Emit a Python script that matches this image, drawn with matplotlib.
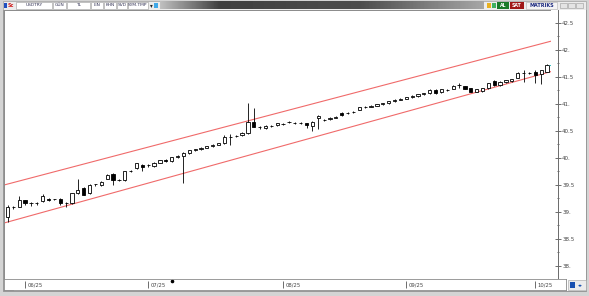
import matplotlib
matplotlib.use("Agg")
import matplotlib.pyplot as plt
from matplotlib.patches import Rectangle
import numpy as np
import pandas as pd

# USDTRY daily candles, 28 May - 03 Oct 2025
dates = pd.bdate_range("2025-05-28", "2025-10-03")

opens = [38.93, 39.10, 39.11, 39.23, 39.18, 39.17, 39.21, 39.26, 39.25, 39.26,
         39.17, 39.17, 39.36, 39.45, 39.36, 39.52, 39.51, 39.63, 39.72, 39.60,
         39.60, 39.77, 39.82, 39.88, 39.87, 39.86, 39.92, 39.97, 39.95, 40.02,
         40.05, 40.10, 40.15, 40.17, 40.20, 40.22, 40.25, 40.28, 40.40, 40.42,
         40.43, 40.46, 40.68, 40.57, 40.56, 40.60, 40.61, 40.63, 40.67, 40.66,
         40.65, 40.65, 40.60, 40.75, 40.71, 40.72, 40.75, 40.84, 40.84, 40.86,
         40.90, 40.94, 40.95, 40.97, 41.00, 41.02, 41.05, 41.08, 41.10, 41.13,
         41.15, 41.18, 41.20, 41.26, 41.22, 41.26, 41.28, 41.35, 41.33, 41.29,
         41.23, 41.24, 41.29, 41.43, 41.35, 41.40, 41.42, 41.49, 41.58, 41.58,
         41.60, 41.55, 41.60]
highs = [39.14, 39.13, 39.30, 39.24, 39.20, 39.19, 39.35, 39.27, 39.26, 39.28,
         39.19, 39.37, 39.63, 39.47, 39.52, 39.53, 39.58, 39.71, 39.73, 39.62,
         39.77, 39.79, 39.92, 39.89, 39.89, 39.93, 39.98, 39.99, 40.03, 40.06,
         40.11, 40.16, 40.18, 40.21, 40.23, 40.26, 40.29, 40.43, 40.45, 40.44,
         40.48, 41.02, 40.92, 40.59, 40.61, 40.62, 40.66, 40.65, 40.69, 40.68,
         40.67, 40.66, 40.69, 40.80, 40.73, 40.76, 40.78, 40.86, 40.86, 40.88,
         40.95, 40.96, 40.98, 41.01, 41.03, 41.06, 41.09, 41.11, 41.14, 41.16,
         41.19, 41.21, 41.27, 41.28, 41.28, 41.28, 41.35, 41.39, 41.34, 41.30,
         41.28, 41.30, 41.39, 41.44, 41.42, 41.45, 41.47, 41.59, 41.63, 41.60,
         41.62, 41.63, 41.73]
lows = [38.83, 39.07, 39.10, 39.15, 39.13, 39.14, 39.20, 39.22, 39.23, 39.15,
        39.11, 39.16, 39.35, 39.32, 39.35, 39.50, 39.50, 39.62, 39.51, 39.58,
        39.59, 39.75, 39.81, 39.76, 39.85, 39.85, 39.91, 39.93, 39.94, 40.01,
        39.55, 40.09, 40.14, 40.16, 40.19, 40.21, 40.24, 40.27, 40.25, 40.40,
        40.42, 40.45, 40.57, 40.55, 40.55, 40.58, 40.60, 40.61, 40.65, 40.64,
        40.63, 40.56, 40.51, 40.55, 40.69, 40.71, 40.74, 40.79, 40.82, 40.84,
        40.89, 40.92, 40.94, 40.96, 40.99, 41.01, 41.04, 41.07, 41.09, 41.12,
        41.14, 41.17, 41.19, 41.18, 41.21, 41.24, 41.27, 41.30, 41.27, 41.22,
        41.22, 41.23, 41.28, 41.34, 41.34, 41.39, 41.41, 41.48, 41.41, 41.56,
        41.38, 41.37, 41.59]
closes = [39.10, 39.11, 39.23, 39.18, 39.17, 39.17, 39.30, 39.23, 39.25, 39.18,
          39.17, 39.36, 39.42, 39.33, 39.51, 39.52, 39.57, 39.69, 39.60, 39.60,
          39.76, 39.77, 39.91, 39.84, 39.87, 39.92, 39.97, 39.95, 40.02, 40.05,
          40.10, 40.15, 40.17, 40.20, 40.22, 40.25, 40.28, 40.40, 40.40, 40.42,
          40.47, 40.68, 40.58, 40.57, 40.60, 40.60, 40.65, 40.63, 40.67, 40.66,
          40.65, 40.61, 40.68, 40.78, 40.71, 40.75, 40.77, 40.80, 40.84, 40.86,
          40.94, 40.94, 40.97, 41.00, 41.02, 41.05, 41.08, 41.10, 41.13, 41.15,
          41.18, 41.20, 41.26, 41.20, 41.27, 41.26, 41.33, 41.35, 41.28, 41.23,
          41.27, 41.29, 41.38, 41.35, 41.41, 41.44, 41.46, 41.58, 41.58, 41.58,
          41.54, 41.62, 41.72]

# trend channel drawn on the chart (ends at left / right edge of plot)
chan_x = [-0.6, 92.7]
chan_upper = [39.51, 42.16]
chan_lower = [38.81, 41.60]

price_ticks = [38.0, 38.5, 39.0, 39.5, 40.0, 40.5, 41.0, 41.5, 42.0, 42.5]
month_labels = ["06/25", "07/25", "08/25", "09/25", "10/25"]

W, H = 589, 296
fig = plt.figure(figsize=(W / 100, H / 100), dpi=100)
fig.patch.set_facecolor("#d4d4d4")


def box(x0, y0, x1, y1):
    return [x0 / W, 1 - y1 / H, (x1 - x0) / W, (y1 - y0) / H]


def px2idx(px):
    return (px - 7.5) / 5.864


# ---- window decoration (toolbar, frame) ----
deco = fig.add_axes([0, 0, 1, 1], zorder=0)
deco.set_xlim(0, W)
deco.set_ylim(H, 0)
deco.axis("off")
deco.add_patch(Rectangle((3, 1), 583, 8.5, fc="#ececec", ec="#a0a0a0", lw=0.5))
grad = np.concatenate([np.linspace(0.75, 0.25, 60), np.linspace(0.25, 0.3, 140),
                       np.linspace(0.3, 0.65, 124)])
deco.imshow(grad[None, :], cmap="gray", vmin=0, vmax=1, aspect="auto",
            extent=(160, 484, 9, 1.5), zorder=1)
deco.set_xlim(0, W)
deco.set_ylim(H, 0)
deco.add_patch(Rectangle((3.5, 2.5), 3, 5, fc="#2050c0", ec="none"))
deco.text(7.5, 5.5, "Sc", color="#d02020", fontsize=3.5, va="center", fontweight="bold")
cells = [(16, 52, "USDTRY"), (53, 66, "GÜN"), (67, 90, "TL"), (91, 103, "LIN"),
         (104, 116, "KHN"), (117, 127, "SVD"), (128, 148, "SYM.TMP")]
for x0, x1, lab in cells:
    deco.add_patch(Rectangle((x0, 2), x1 - x0, 6.5, fc="white", ec="#9a9a9a", lw=0.4))
    deco.text((x0 + x1) / 2, 5.4, lab, fontsize=3.2, ha="center", va="center", color="#333355")
deco.text(151, 5.4, "\u25be", fontsize=4, ha="center", va="center", color="#222222")
deco.add_patch(Rectangle((154, 2.5), 4, 5, fc="#40a8e8", ec="none"))
deco.add_patch(Rectangle((487, 2.5), 4, 5, fc="#e8b020", ec="none"))
deco.add_patch(Rectangle((492, 2.5), 4, 5, fc="#40b060", ec="none"))
deco.add_patch(Rectangle((497, 2), 12, 6.5, fc="#1a7a2a", ec="none"))
deco.text(503, 5.4, "AL", fontsize=3.3, ha="center", va="center", color="white", fontweight="bold")
deco.add_patch(Rectangle((510, 2), 14, 6.5, fc="#a01818", ec="none"))
deco.text(517, 5.4, "SAT", fontsize=3.3, ha="center", va="center", color="white", fontweight="bold")
deco.add_patch(Rectangle((526, 2), 31, 6.5, fc="#f4f4f4", ec="#b0b0b0", lw=0.4))
deco.text(541.5, 5.4, "MATRIKS", fontsize=3.5, ha="center", va="center", color="#1c2a80",
          fontweight="bold")
for bx in (560, 568, 576):
    deco.add_patch(Rectangle((bx, 2.5), 7, 5.5, fc="#e4e4e4", ec="#9a9a9a", lw=0.4))
deco.add_patch(Rectangle((3, 10), 583, 280.5, fc="white", ec="#8a8a8a", lw=0.6))
deco.add_patch(Rectangle((4, 280.5), 9, 9, fc="#ececec", ec="#a0a0a0", lw=0.4))
deco.add_patch(Rectangle((568, 280), 18, 10, fc="#ececec", ec="#a0a0a0", lw=0.4))
deco.add_patch(Rectangle((570, 282), 5, 6, fc="#1850b0", ec="none"))
deco.text(580, 285.5, "\u25c2\u25b8", fontsize=3.5, ha="center", va="center", color="#1850b0")

# ---- main candle chart ----
ax = fig.add_axes(box(4, 10, 551, 279), zorder=2)
ax.set_facecolor("white")
x = np.arange(len(dates))
o = np.array(opens)
h = np.array(highs)
lo = np.array(lows)
c = np.array(closes)
up = c >= o
ax.vlines(x, lo, h, color="black", lw=0.6, zorder=2)
bottoms = np.minimum(o, c)
heights = np.abs(c - o)
ax.bar(x[up], heights[up], bottom=bottoms[up], width=0.55, color="white",
       edgecolor="black", linewidth=0.6, zorder=3)
ax.bar(x[~up], heights[~up], bottom=bottoms[~up], width=0.55, color="black",
       edgecolor="black", linewidth=0.6, zorder=3)
ax.plot(chan_x, chan_upper, color="#f06a6a", lw=0.8, zorder=1)
ax.plot(chan_x, chan_lower, color="#f06a6a", lw=0.8, zorder=1)
ax.hlines(closes[-1], x[-1] + 0.3, px2idx(551), color="#30c0c0", lw=0.7, zorder=4)

ax.set_xlim(px2idx(4), px2idx(551))
ymin = 38 + (267 - 279) / 54.29
ymax = 38 + (267 - 10) / 54.29
ax.set_ylim(ymin, ymax)
ax.set_xticks([])
ax.set_yticks([])
for s in ax.spines.values():
    s.set_color("#8a8a8a")
    s.set_linewidth(0.7)

# ---- price scale ----
axp = fig.add_axes(box(551, 10, 586, 279), zorder=2)
axp.set_facecolor("white")
axp.set_ylim(ymin, ymax)
axp.set_xticks([])
for k in ("top", "bottom", "left"):
    axp.spines[k].set_visible(False)
axp.spines["right"].set_position(("axes", 7 / 35))
axp.spines["right"].set_color("#6a6a6a")
axp.spines["right"].set_linewidth(0.7)
axp.yaxis.tick_right()
axp.set_yticks(price_ticks)
axp.set_yticklabels([f"{v:g}" if v % 1 else f"{v:g}." for v in price_ticks])
axp.set_yticks(np.arange(37.75, 42.75, 0.25), minor=True)
axp.tick_params(axis="y", which="major", direction="inout", length=4, width=0.6,
                color="#555555", labelsize=4, labelcolor="#444444", pad=1)
axp.tick_params(axis="y", which="minor", direction="inout", length=1.5, width=0.6,
                color="#555555")

# ---- date strip ----
axd = fig.add_axes(box(4, 279, 566, 290), zorder=2)
axd.set_facecolor("white")
axd.set_xlim(px2idx(4), px2idx(566))
axd.set_ylim(0, 1)
axd.set_xticks([])
axd.set_yticks([])
for k, s in axd.spines.items():
    s.set_color("#8a8a8a")
    s.set_linewidth(0.6)
month_first = [i for i in range(1, len(dates)) if dates[i].month != dates[i - 1].month]
axd.vlines(month_first, 0.2, 0.85, color="#555555", lw=0.6)
for i, lab in zip(month_first, month_labels):
    axd.text(i + 0.35, 0.48, lab, fontsize=3.8, va="center", ha="left", color="#444444")
axd.plot([28], [0.78], "o", ms=1.6, color="black")

fig.savefig("out.png", dpi=100, facecolor=fig.get_facecolor())
